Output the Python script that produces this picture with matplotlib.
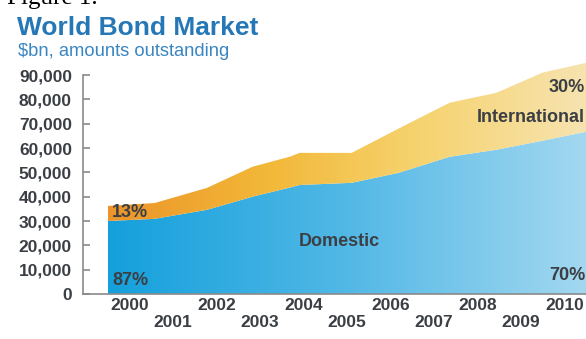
import numpy as np
import matplotlib.pyplot as plt
from matplotlib.colors import LinearSegmentedColormap

# data, $bn
years = [2000.0, 2001.08, 2002.28, 2003.33, 2004.2, 2004.41, 2005.61, 2006.69, 2007.86, 2008.94, 2010.0, 2011.0]
total = [36200, 37400, 43600, 52300, 56500, 58000, 58000, 68000, 78600, 82700, 91000, 95000]
domestic = [30000, 30900, 34600, 40000, 43800, 44800, 45700, 49800, 56400, 59300, 63000, 66700]
yticks = [0, 10000, 20000, 30000, 40000, 50000, 60000, 70000, 80000, 90000]
year_labels = list(range(2000, 2011))

font = ['Liberation Sans Narrow', 'Liberation Sans', 'DejaVu Sans']
plt.rcParams['font.family'] = font
txt = '#3b3f44'

fig = plt.figure(figsize=(5.86, 3.39), dpi=100)
ax = fig.add_axes([83 / 586, 45 / 339, 1 - 83 / 586, (294 - 58) / 339])
ax.set_xlim(1999.43, 2011.0)
ax.set_ylim(0, 97000)

# gradient fills clipped to the areas
blue = LinearSegmentedColormap.from_list('b', ['#14a0dc', '#52b8e6', '#a3d8f0'])
orange = LinearSegmentedColormap.from_list('o', ['#ec942a', '#f2b838', '#f6d472', '#f7e3b0'])
grad = np.linspace(0, 1, 256).reshape(1, -1)

dom = ax.fill_between(years, 0, domestic, color='none', lw=0)
intl = ax.fill_between(years, domestic, total, color='none', lw=0)
ext = [years[0], years[-1], 0, 97000]
im1 = ax.imshow(grad, cmap=blue, extent=ext, aspect='auto', zorder=1)
im1.set_clip_path(dom.get_paths()[0], transform=ax.transData)
im2 = ax.imshow(grad, cmap=orange, extent=ext, aspect='auto', zorder=1)
im2.set_clip_path(intl.get_paths()[0], transform=ax.transData)
ax.set_xlim(1999.43, 2011.0)
ax.set_ylim(0, 97000)

# axes styling
for s in ['top', 'right']:
    ax.spines[s].set_visible(False)
ax.spines['left'].set_bounds(0, 90000)
ax.spines['left'].set_color('#8a8a8a')
ax.spines['bottom'].set_color('#8a8a8a')
ax.spines['left'].set_linewidth(1.2)
ax.spines['bottom'].set_linewidth(1.2)
ax.set_yticks(yticks)
ax.set_yticklabels(['{:,}'.format(v) for v in yticks], fontsize=12.5,
                   fontweight='bold', color=txt)
ax.tick_params(axis='y', direction='in', length=5, color='#8a8a8a', width=1.2, pad=8)

ax.set_xticks([y + 0.5 for y in year_labels])
ax.set_xticklabels([str(y) if y % 2 == 0 else '\n' + str(y) for y in year_labels],
                   fontsize=12.5, fontweight='bold', color=txt, linespacing=1.15)
ax.tick_params(axis='x', length=0, pad=3)

# labels on the areas
kw = dict(fontsize=13, fontweight='bold', color=txt)
ax.text(2000.1, 33700, '13%', va='center', ha='left', **kw)
ax.text(2000.1, 5700, '87%', va='center', ha='left', **kw)
ax.text(2005.33, 21500, 'Domestic', va='center', ha='center', **kw)
ax.text(2010.98, 72700, 'International', va='center', ha='right', **kw)
ax.text(2010.98, 85000, '30%', va='center', ha='right', **kw)
ax.text(2010.98, 7800, '70%', va='center', ha='right', **kw)

# titles
fig.text(7, 339 - 4, 'Figure 1.', transform=None, fontsize=18, family='Liberation Serif',
         va='baseline', ha='left', color='black')
fig.text(17, 339 - 35, 'World Bond Market', transform=None, fontsize=19,
         fontweight='bold', color='#2677b6', va='baseline', ha='left')
fig.text(18, 339 - 56, '$bn, amounts outstanding', transform=None, fontsize=13.2,
         color='#3a86c2', va='baseline', ha='left')

plt.savefig('out.png', dpi=100, facecolor='white')
